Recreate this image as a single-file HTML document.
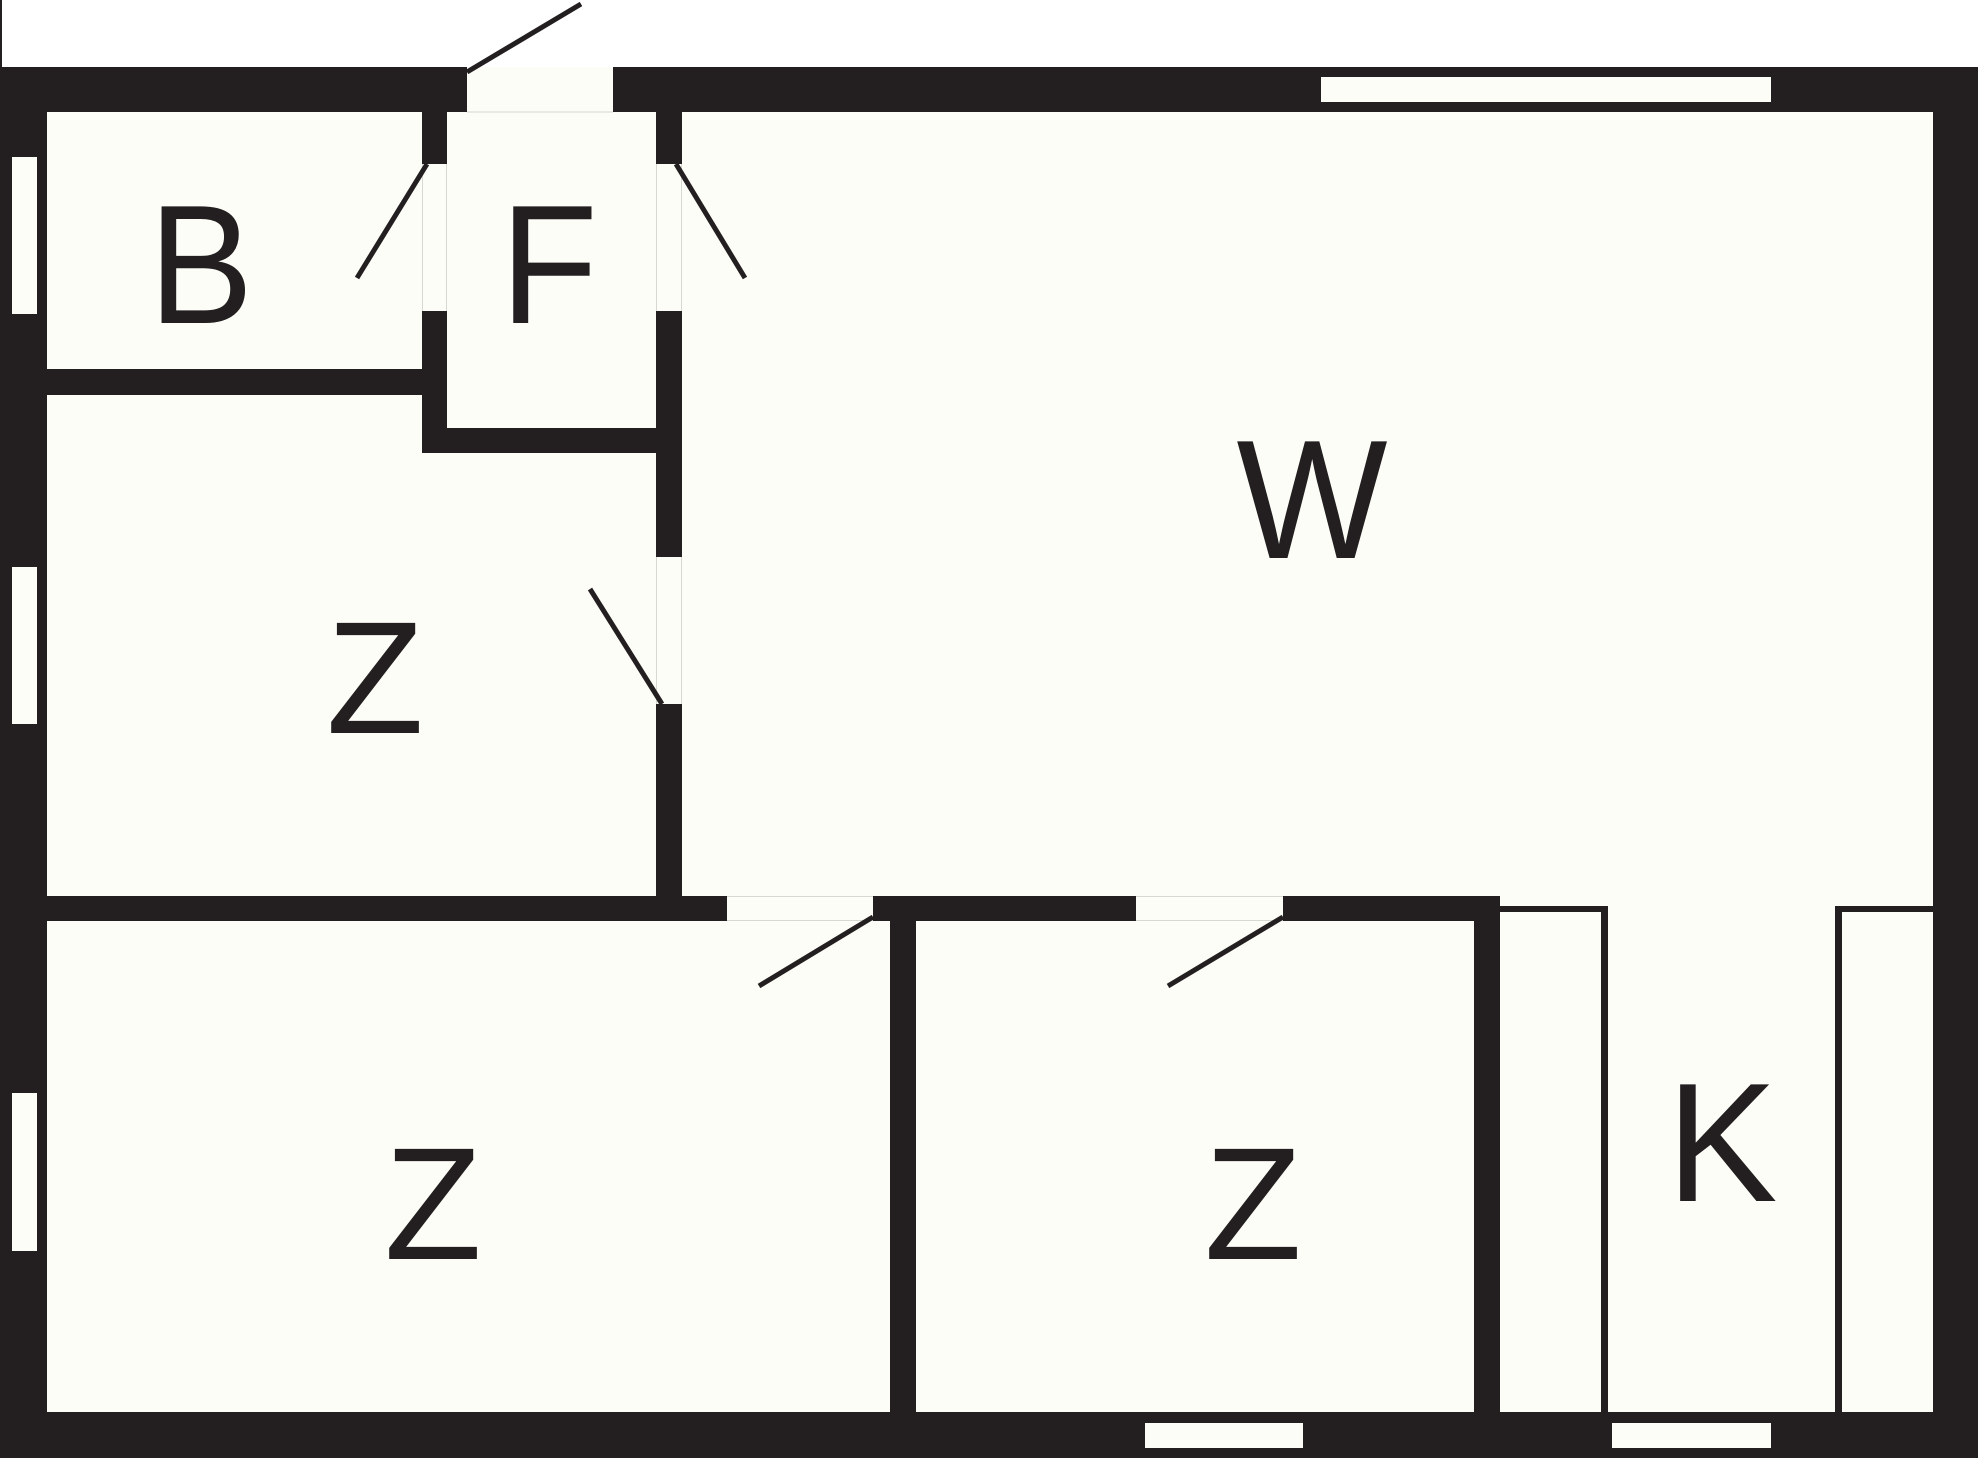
<!DOCTYPE html>
<html>
<head>
<meta charset="utf-8">
<style>
  html, body { margin: 0; padding: 0; background: #ffffff; }
  body { width: 1980px; height: 1458px; overflow: hidden; }
  svg { display: block; }
  text { font-family: "Liberation Sans", Arial, sans-serif; font-size: 160px; fill: #231f20; }
</style>
</head>
<body>
<svg width="1980" height="1458" viewBox="0 0 1980 1458" xmlns="http://www.w3.org/2000/svg">
  <!-- background -->
  <rect x="0" y="0" width="1980" height="1458" fill="#ffffff"/>
  <!-- thin left line at top -->
  <rect x="0" y="0" width="2" height="67" fill="#231f20"/>
  <!-- outer black mass -->
  <rect x="0" y="67" width="1978" height="1391" fill="#231f20"/>

  <g fill="#fdfdf7">
    <!-- B -->
    <rect x="47" y="112" width="375" height="257"/>
    <!-- F -->
    <rect x="447" y="112" width="209" height="316"/>
    <!-- Z top -->
    <rect x="47" y="453" width="609" height="443"/>
    <rect x="47" y="395" width="375" height="58"/>
    <!-- W -->
    <rect x="682" y="112" width="1251" height="784"/>
    <!-- kitchen -->
    <rect x="1500" y="896" width="433" height="516"/>
    <!-- Z bottom left -->
    <rect x="47" y="921" width="843" height="491"/>
    <!-- Z bottom mid -->
    <rect x="916" y="921" width="558" height="491"/>

    <!-- door gaps -->
    <rect x="467" y="67" width="146" height="45"/>
    <rect x="422" y="164" width="25" height="147"/>
    <rect x="656" y="164" width="26" height="147"/>
    <rect x="656" y="557" width="26" height="147"/>
    <rect x="727" y="896" width="146" height="25"/>
    <rect x="1136" y="896" width="147" height="25"/>

    <!-- windows -->
    <rect x="1321" y="77" width="450" height="25"/>
    <rect x="12" y="157" width="25" height="157"/>
    <rect x="12" y="567" width="25" height="157"/>
    <rect x="12" y="1093" width="25" height="158"/>
    <rect x="1145" y="1423" width="158" height="25"/>
    <rect x="1612" y="1423" width="159" height="25"/>
  </g>

  <!-- faint door gap edges -->
  <g stroke="#d8d8d2" stroke-width="1" fill="none">
    <line x1="467" y1="112" x2="613" y2="112"/>
    <line x1="422.5" y1="164" x2="422.5" y2="311"/>
    <line x1="446.5" y1="164" x2="446.5" y2="311"/>
    <line x1="656.5" y1="164" x2="656.5" y2="311"/>
    <line x1="681.5" y1="164" x2="681.5" y2="311"/>
    <line x1="656.5" y1="557" x2="656.5" y2="704"/>
    <line x1="681.5" y1="557" x2="681.5" y2="704"/>
    <line x1="727" y1="896.5" x2="873" y2="896.5"/>
    <line x1="727" y1="920.5" x2="873" y2="920.5"/>
    <line x1="1136" y1="896.5" x2="1283" y2="896.5"/>
    <line x1="1136" y1="920.5" x2="1283" y2="920.5"/>
  </g>

  <!-- kitchen counters -->
  <g fill="#231f20">
    <rect x="1500" y="906" width="108" height="6"/>
    <rect x="1601" y="906" width="7" height="506"/>
    <rect x="1835" y="906" width="98" height="6"/>
    <rect x="1835" y="906" width="7" height="506"/>
  </g>

  <!-- door swing lines -->
  <g stroke="#231f20" stroke-width="5" fill="none">
    <line x1="467" y1="72" x2="581" y2="4"/>
    <line x1="427" y1="164" x2="357" y2="278"/>
    <line x1="676" y1="164" x2="745" y2="278"/>
    <line x1="662" y1="704" x2="590" y2="589"/>
    <line x1="873" y1="917" x2="759" y2="986"/>
    <line x1="1283" y1="917" x2="1168" y2="986"/>
  </g>

  <!-- labels -->
  <text transform="translate(201,323) scale(0.98,1.06)" text-anchor="middle">B</text>
  <text transform="translate(549,323) scale(1,1.06)" text-anchor="middle">F</text>
  <text transform="translate(1312,558) scale(1,1.06)" text-anchor="middle">W</text>
  <text x="375" y="733" text-anchor="middle">Z</text>
  <text x="433" y="1259" text-anchor="middle">Z</text>
  <text x="1253" y="1259" text-anchor="middle">Z</text>
  <text transform="translate(1722,1201) scale(1.04,1.06)" text-anchor="middle">K</text>
</svg>
</body>
</html>
